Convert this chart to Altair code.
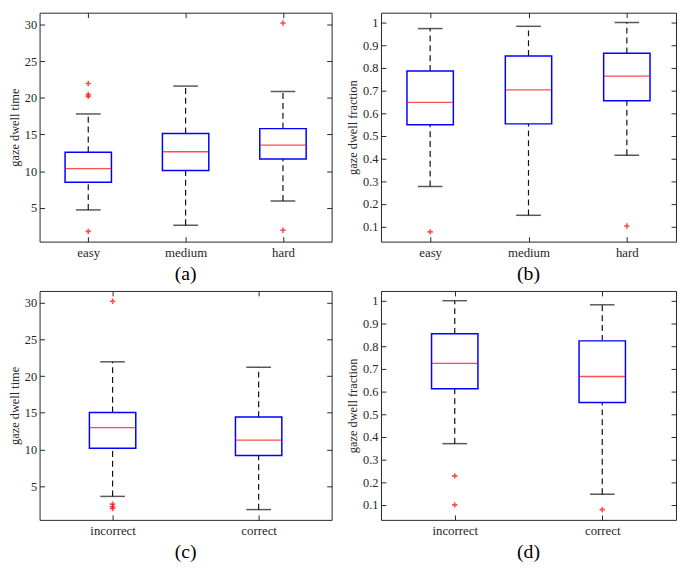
import altair as alt
import pandas as pd

FONT = "Liberation Serif, Times New Roman, Times, serif"
INK = "#262626"
BLUE = "#0000ff"
RED = "#ff0000"

# categories
difficulty = ["easy", "medium", "hard"]
answer = ["incorrect", "correct"]

# (a) gaze dwell time by difficulty
a_lower = [4.72, 2.63, 5.95]
a_q1 = [8.50, 10.08, 11.65]
a_med = [10.35, 12.65, 13.55]
a_q3 = [12.58, 15.15, 15.80]
a_upper = [17.80, 21.60, 20.85]
a_out_cat = ["easy", "easy", "easy", "easy", "hard", "hard"]
a_out_val = [21.95, 20.45, 20.20, 1.80, 30.20, 1.95]

# (b) gaze dwell fraction by difficulty
b_lower = [0.277, 0.150, 0.415]
b_q1 = [0.549, 0.553, 0.655]
b_med = [0.648, 0.703, 0.763]
b_q3 = [0.786, 0.852, 0.864]
b_upper = [0.973, 0.983, 1.000]
b_out_cat = ["easy", "hard"]
b_out_val = [0.077, 0.103]

# (c) gaze dwell time by answer
c_lower = [3.60, 1.80]
c_q1 = [10.17, 9.16]
c_med = [12.97, 11.26]
c_q3 = [15.03, 14.41]
c_upper = [21.94, 21.20]
c_out_cat = ["incorrect", "incorrect", "incorrect", "incorrect"]
c_out_val = [30.20, 2.55, 2.20, 1.94]

# (d) gaze dwell fraction by answer
d_lower = [0.370, 0.147]
d_q1 = [0.612, 0.551]
d_med = [0.724, 0.666]
d_q3 = [0.854, 0.823]
d_upper = [1.000, 0.982]
d_out_cat = ["incorrect", "incorrect", "correct"]
d_out_val = [0.228, 0.100, 0.079]

time_ticks = [5, 10, 15, 20, 25, 30]
time_domain = [0.4, 31.6]
frac_ticks = [0.1, 0.2, 0.3, 0.4, 0.5, 0.6, 0.7, 0.8, 0.9, 1.0]
frac_domain = [0.034, 1.043]


def make_panel(cats, lower, q1, med, q3, upper, out_cat, out_val,
               ydomain, yticks, yfmt, ytitle, caption, width, height):
    box = pd.DataFrame({"cat": cats, "lower": lower, "q1": q1, "med": med,
                        "q3": q3, "upper": upper})
    out = pd.DataFrame({"cat": out_cat, "val": out_val})
    xs = alt.Scale(type="point", padding=0.5, domain=cats)
    ys = alt.Scale(domain=ydomain, nice=False, zero=False)
    X = alt.X("cat:N", scale=xs, axis=None)
    base = alt.Chart(box)

    whisk_hi = base.mark_rule(color="#111111", strokeWidth=1.2, strokeDash=[6, 4]).encode(
        x=X, y=alt.Y("q3:Q", scale=ys, axis=None), y2=alt.Y2("upper"))
    whisk_lo = base.mark_rule(color="#111111", strokeWidth=1.2, strokeDash=[6, 4]).encode(
        x=X, y=alt.Y("lower:Q", scale=ys, axis=None), y2=alt.Y2("q1"))
    boxes = base.mark_bar(size=47, fill="white", stroke=BLUE, strokeWidth=1.5).encode(
        x=X, y=alt.Y("q1:Q", scale=ys, axis=None), y2=alt.Y2("q3"))
    medians = base.mark_tick(color=RED, size=46, thickness=1.3, orient="horizontal").encode(
        x=X, y=alt.Y("med:Q", scale=ys, axis=None))
    cap_hi = base.mark_tick(color="#111111", size=25, thickness=1.5, orient="horizontal").encode(
        x=X, y=alt.Y("upper:Q", scale=ys, axis=None))
    cap_lo = base.mark_tick(color="#111111", size=25, thickness=1.5, orient="horizontal").encode(
        x=X, y=alt.Y("lower:Q", scale=ys, axis=None))
    outliers = alt.Chart(out).mark_point(
        shape="M-1,0L1,0M0,-1L0,1", size=30, color=RED, filled=False, strokeWidth=1.6
    ).encode(x=X, y=alt.Y("val:Q", scale=ys, axis=None))

    axes_main = base.mark_point(opacity=0).encode(
        x=alt.X("cat:N", scale=xs, title=None,
                axis=alt.Axis(orient="bottom", domain=False, tickSize=5, offset=-5,
                              labelPadding=5, labelAngle=0, labelFontSize=13,
                              tickColor=INK)),
        y=alt.Y("med:Q", scale=ys, title=ytitle,
                axis=alt.Axis(orient="left", domain=False, values=yticks, format=yfmt,
                              tickSize=5, offset=-5, labelPadding=3, titlePadding=3,
                              labelFontSize=12.5, titleFontSize=12.5, tickColor=INK)))
    axes_other = base.mark_point(opacity=0).encode(
        x=alt.X("cat:N", scale=xs, title=None,
                axis=alt.Axis(orient="top", domain=False, labels=False, tickSize=5,
                              offset=-5, tickColor=INK)),
        y=alt.Y("med:Q", scale=ys, title=None,
                axis=alt.Axis(orient="right", domain=False, labels=False, values=yticks,
                              tickSize=5, offset=-5, tickColor=INK)))

    return alt.layer(whisk_hi, whisk_lo, boxes, medians, cap_hi, cap_lo, outliers,
                     axes_main, axes_other).resolve_axis(
        x="independent", y="independent").properties(
        width=width, height=height,
        title=alt.TitleParams(caption, orient="bottom", offset=5, fontSize=20,
                              font=FONT, fontWeight="normal", color="black"))


W_L, W_R, H = 296, 299, 232

pa = make_panel(difficulty, a_lower, a_q1, a_med, a_q3, a_upper, a_out_cat, a_out_val,
                time_domain, time_ticks, "d", "gaze dwell time", "(a)", W_L, H)
pb = make_panel(difficulty, b_lower, b_q1, b_med, b_q3, b_upper, b_out_cat, b_out_val,
                frac_domain, frac_ticks, ".1~f", "gaze dwell fraction", "(b)", W_R, H)
pc = make_panel(answer, c_lower, c_q1, c_med, c_q3, c_upper, c_out_cat, c_out_val,
                time_domain, time_ticks, "d", "gaze dwell time", "(c)", W_L, H)
pd_ = make_panel(answer, d_lower, d_q1, d_med, d_q3, d_upper, d_out_cat, d_out_val,
                 frac_domain, frac_ticks, ".1~f", "gaze dwell fraction", "(d)", W_R, H)

chart = alt.vconcat(
    alt.hconcat(pa, pb, spacing=13),
    alt.hconcat(pc, pd_, spacing=13),
    spacing=5,
).properties(
    padding={"left": 0, "top": 0, "right": 0, "bottom": 0}
).configure_view(
    stroke=INK, strokeWidth=1
).configure_axis(
    labelFont=FONT, labelColor=INK,
    titleFont=FONT, titleFontWeight="normal", titleColor=INK, grid=False
).configure_title(font=FONT)

chart.save("out.html", embed_options={"renderer": "svg", "actions": False})
